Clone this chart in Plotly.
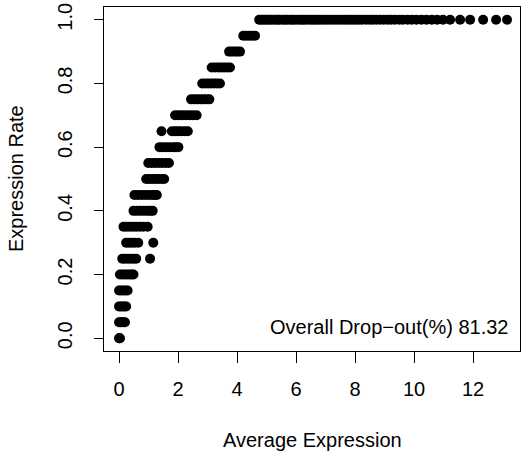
import plotly.graph_objects as go

# Expression rate levels and the average-expression values seen at each level
rate_levels = [0.00, 0.05, 0.10, 0.15, 0.20, 0.25, 0.30, 0.35, 0.40, 0.45, 0.50,
               0.55, 0.60, 0.65, 0.70, 0.75, 0.80, 0.85, 0.90, 0.95, 1.00]

avg_r000 = [0.0, 0.02, 0.03]
avg_r005 = [0.0, 0.05, 0.1, 0.15, 0.2]
avg_r010 = [0.0, 0.06, 0.12, 0.18, 0.24]
avg_r015 = [0.0, 0.07, 0.14, 0.22, 0.29]
avg_r020 = [0.03, 0.12, 0.2, 0.28, 0.36, 0.43, 0.49]
avg_r025 = [0.11, 0.2, 0.3, 0.4, 0.49, 0.58, 1.05]
avg_r030 = [0.24, 0.33, 0.43, 0.53, 0.65, 1.16]
avg_r035 = [0.15, 0.25, 0.36, 0.47, 0.58, 0.7, 0.82, 0.97]
avg_r040 = [0.49, 0.6, 0.72, 0.84, 0.96, 1.06, 1.14]
avg_r045 = [0.52, 0.64, 0.76, 0.88, 1.0, 1.12, 1.2, 1.28]
avg_r050 = [0.92, 1.02, 1.12, 1.22, 1.33, 1.44, 1.53]
avg_r055 = [0.99, 1.1, 1.22, 1.34, 1.46, 1.58, 1.69]
avg_r060 = [1.37, 1.48, 1.6, 1.72, 1.84, 1.93, 2.01]
avg_r065 = [1.44, 1.79, 1.9, 2.0, 2.1, 2.22, 2.33]
avg_r070 = [1.9, 2.02, 2.14, 2.26, 2.38, 2.5, 2.63]
avg_r075 = [2.44, 2.55, 2.66, 2.76, 2.86, 2.96, 3.06]
avg_r080 = [2.82, 2.92, 3.02, 3.12, 3.22, 3.32, 3.42]
avg_r085 = [3.14, 3.25, 3.36, 3.46, 3.56, 3.66, 3.76]
avg_r090 = [3.73, 3.82, 3.92, 4.01, 4.1]
avg_r095 = [4.21, 4.31, 4.41, 4.51, 4.61]
avg_r100 = [4.75, 4.82, 4.9, 4.98, 5.05, 5.13, 5.2, 5.3, 5.38, 5.45, 5.55, 5.63,
            5.7, 5.8, 5.88, 5.95, 6.05, 6.15, 6.22, 6.3, 6.4, 6.5, 6.58, 6.67,
            6.75, 6.85, 6.95, 7.05, 7.15, 7.25, 7.35, 7.45, 7.55, 7.65, 7.75,
            7.85, 7.95, 8.05, 8.15, 8.25, 8.38, 8.5, 8.6, 8.72, 8.85, 8.97, 9.1,
            9.22, 9.35, 9.5, 9.62, 9.78, 9.92, 10.08, 10.25, 10.42, 10.6, 10.78,
            10.98, 11.22, 11.56, 11.9, 12.34, 12.78, 13.15]

avg_by_level = [avg_r000, avg_r005, avg_r010, avg_r015, avg_r020, avg_r025,
                avg_r030, avg_r035, avg_r040, avg_r045, avg_r050, avg_r055,
                avg_r060, avg_r065, avg_r070, avg_r075, avg_r080, avg_r085,
                avg_r090, avg_r095, avg_r100]

x_ticks = [0, 2, 4, 6, 8, 10, 12]
y_ticks = [0.0, 0.2, 0.4, 0.6, 0.8, 1.0]
y_tick_text = ["0.0", "0.2", "0.4", "0.6", "0.8", "1.0"]
dropout_label = "Overall Drop\u2212out(%) 81.32"

xs, ys = [], []
for rate, vals in zip(rate_levels, avg_by_level):
    for v in vals:
        xs.append(v)
        ys.append(rate)

FONT = "Liberation Sans, Arial, Helvetica, sans-serif"
FS = 20

fig = go.Figure()
fig.add_trace(go.Scatter(x=xs, y=ys, mode="markers",
                         marker=dict(color="black", size=10, line=dict(width=0)),
                         showlegend=False, hoverinfo="skip"))

fig.update_layout(
    width=522, height=453,
    margin=dict(l=104, r=2, t=7, b=102),
    paper_bgcolor="white", plot_bgcolor="white",
    font=dict(family=FONT, size=FS, color="black"),
    xaxis=dict(range=[-0.51, 13.59], tickmode="array", tickvals=x_ticks,
               ticks="outside", ticklen=11, tickwidth=1, tickcolor="black",
               showline=True, linecolor="black", linewidth=1, mirror=True,
               showgrid=False, zeroline=False, ticklabelstandoff=9,
               tickfont=dict(size=FS)),
    yaxis=dict(range=[-0.04, 1.04], tickmode="array", tickvals=y_ticks,
               ticktext=y_tick_text, tickangle=-90,
               ticks="outside", ticklen=9, tickwidth=1, tickcolor="black",
               showline=True, linecolor="black", linewidth=1, mirror=True,
               showgrid=False, zeroline=False, ticklabelstandoff=14,
               tickfont=dict(size=FS)),
    annotations=[
        dict(text="Average Expression", xref="paper", yref="paper",
             x=(312 - 104) / 416, y=(351 - 440.5) / 344,
             xanchor="center", yanchor="middle", showarrow=False,
             font=dict(size=FS)),
        dict(text="Expression Rate", xref="paper", yref="paper",
             x=(16 - 104) / 416, y=0.5, textangle=-90,
             xanchor="center", yanchor="middle", showarrow=False,
             font=dict(size=FS)),
        dict(text=dropout_label, xref="paper", yref="paper",
             x=(510 - 104) / 416, y=(351 - 327) / 344,
             xanchor="right", yanchor="middle", showarrow=False,
             font=dict(size=FS)),
    ],
)

fig.write_html("out.html",
               config={"displayModeBar": False, "staticPlot": True},
               post_script="document.body.style.margin='0';"
                           "document.body.style.padding='0';")
